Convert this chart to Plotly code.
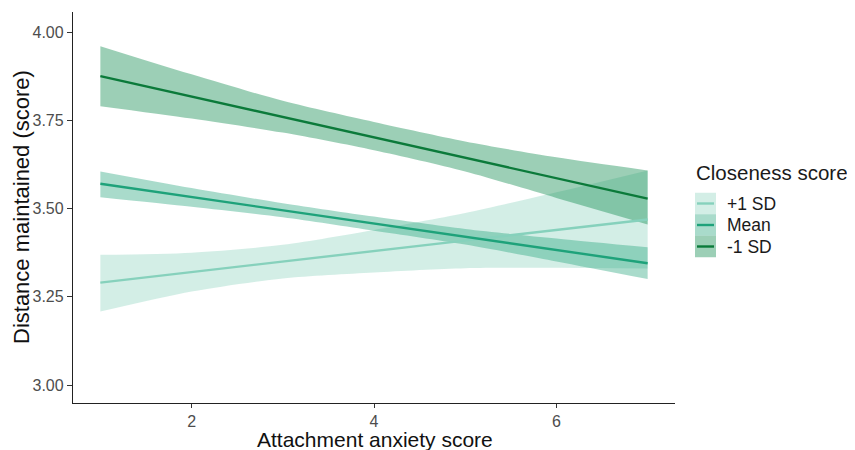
import plotly.graph_objects as go

# ---- data ----
x_band = [1, 2, 3, 4, 5, 6, 7]
x_line = [1, 7]

groups = ["+1 SD", "Mean", "-1 SD"]

plus_line = [3.290, 3.469]
plus_upper = [3.369, 3.375, 3.397, 3.439, 3.487, 3.546, 3.608]
plus_lower = [3.208, 3.265, 3.302, 3.319, 3.331, 3.332, 3.330]

mean_line = [3.570, 3.345]
mean_upper = [3.605, 3.558, 3.515, 3.477, 3.442, 3.415, 3.390]
mean_lower = [3.532, 3.505, 3.475, 3.437, 3.398, 3.350, 3.300]

minus_line = [3.875, 3.528]
minus_upper = [3.960, 3.880, 3.805, 3.745, 3.690, 3.645, 3.608]
minus_lower = [3.790, 3.755, 3.715, 3.665, 3.605, 3.530, 3.455]

x_ticks = [2, 4, 6]
y_ticks = [3.00, 3.25, 3.50, 3.75, 4.00]
y_tick_labels = ["3.00", "3.25", "3.50", "3.75", "4.00"]

# ---- styles ----
line_colors = {"+1 SD": "#86d1bc", "Mean": "#1ea27a", "-1 SD": "#0b7a3a"}
fill_colors = {"+1 SD": "rgba(140,210,190,0.38)",
               "Mean": "rgba(40,165,125,0.40)",
               "-1 SD": "rgba(20,140,80,0.42)"}

data = {
    "+1 SD": (plus_line, plus_upper, plus_lower),
    "Mean": (mean_line, mean_upper, mean_lower),
    "-1 SD": (minus_line, minus_upper, minus_lower),
}

fig = go.Figure()

for g in groups:
    ln, up, lo = data[g]
    fig.add_trace(go.Scatter(x=x_band, y=lo, mode="lines",
                             line=dict(width=0, shape="spline", smoothing=0.8),
                             showlegend=False, hoverinfo="skip"))
    fig.add_trace(go.Scatter(x=x_band, y=up, mode="lines", fill="tonexty",
                             fillcolor=fill_colors[g],
                             line=dict(width=0, shape="spline", smoothing=0.8),
                             showlegend=False, hoverinfo="skip"))

for g in groups:
    ln, up, lo = data[g]
    fig.add_trace(go.Scatter(x=x_line, y=ln, mode="lines",
                             line=dict(color=line_colors[g], width=2.4),
                             showlegend=False))

# ---- layout geometry (target pixels in the 855x450 window) ----
W, H = 855, 450
OFF = 8  # default page body margin shifts the figure by 8px
L_AX, R_AX, T_AX, B_AX = 73, 675, 12, 403   # plot area in window pixels
ML = L_AX - OFF
MT = T_AX - OFF
MR = W - (R_AX - OFF)
MB = H - (B_AX - OFF)
PW, PH = R_AX - L_AX, B_AX - T_AX

def px(x):
    return (x - L_AX) / PW

def py(y):
    return (B_AX - y) / PH

shapes = []
annotations = []
key_tops = [192.75, 214.25, 235.75]
key_h = 21.5
for g, top in zip(groups, key_tops):
    shapes.append(dict(type="rect", xref="paper", yref="paper",
                       x0=px(695), x1=px(716), y0=py(top + key_h), y1=py(top),
                       fillcolor=fill_colors[g], line=dict(width=0), layer="above"))
    shapes.append(dict(type="line", xref="paper", yref="paper",
                       x0=px(697), x1=px(714), y0=py(top + key_h / 2), y1=py(top + key_h / 2),
                       line=dict(color=line_colors[g], width=2.4), layer="above"))
    annotations.append(dict(text=g, xref="paper", yref="paper", x=px(725),
                            y=py(top + key_h / 2), xanchor="left", yanchor="middle",
                            showarrow=False, font=dict(size=17.5, color="#1a1a1a")))
annotations.append(dict(text="Closeness score", xref="paper", yref="paper", x=px(694),
                        y=py(172), xanchor="left", yanchor="middle", showarrow=False,
                        font=dict(size=20.5, color="#1a1a1a")))
annotations.append(dict(text="Attachment anxiety score", xref="paper", yref="paper",
                        x=px(375), y=py(439.5), xanchor="center", yanchor="middle",
                        showarrow=False, font=dict(size=21, color="#111")))
annotations.append(dict(text="Distance maintained (score)", xref="paper", yref="paper",
                        x=px(21), y=py(207), xanchor="center", yanchor="middle",
                        textangle=-90, showarrow=False, font=dict(size=22, color="#111")))

fig.update_layout(
    width=W, height=H,
    margin=dict(l=ML, r=MR, t=MT, b=MB),
    plot_bgcolor="white", paper_bgcolor="white",
    font=dict(family="Liberation Sans, Arial, sans-serif"),
    shapes=shapes, annotations=annotations,
    xaxis=dict(range=[0.7, 7.3], tickvals=x_ticks, showgrid=False, zeroline=False,
               automargin=False,
               showline=True, linecolor="#222", linewidth=1.3,
               ticks="outside", ticklen=4, tickcolor="#333", tickwidth=1,
               tickfont=dict(size=16, color="#4d4d4d")),
    yaxis=dict(range=[2.949, 4.0567], tickvals=y_ticks, ticktext=y_tick_labels,
               showgrid=False, zeroline=False, automargin=False,
               showline=True, linecolor="#222", linewidth=1.3,
               ticks="outside", ticklen=5, tickcolor="#333", tickwidth=1,
               tickfont=dict(size=16, color="#4d4d4d")),
)

fig.write_html("out.html")
